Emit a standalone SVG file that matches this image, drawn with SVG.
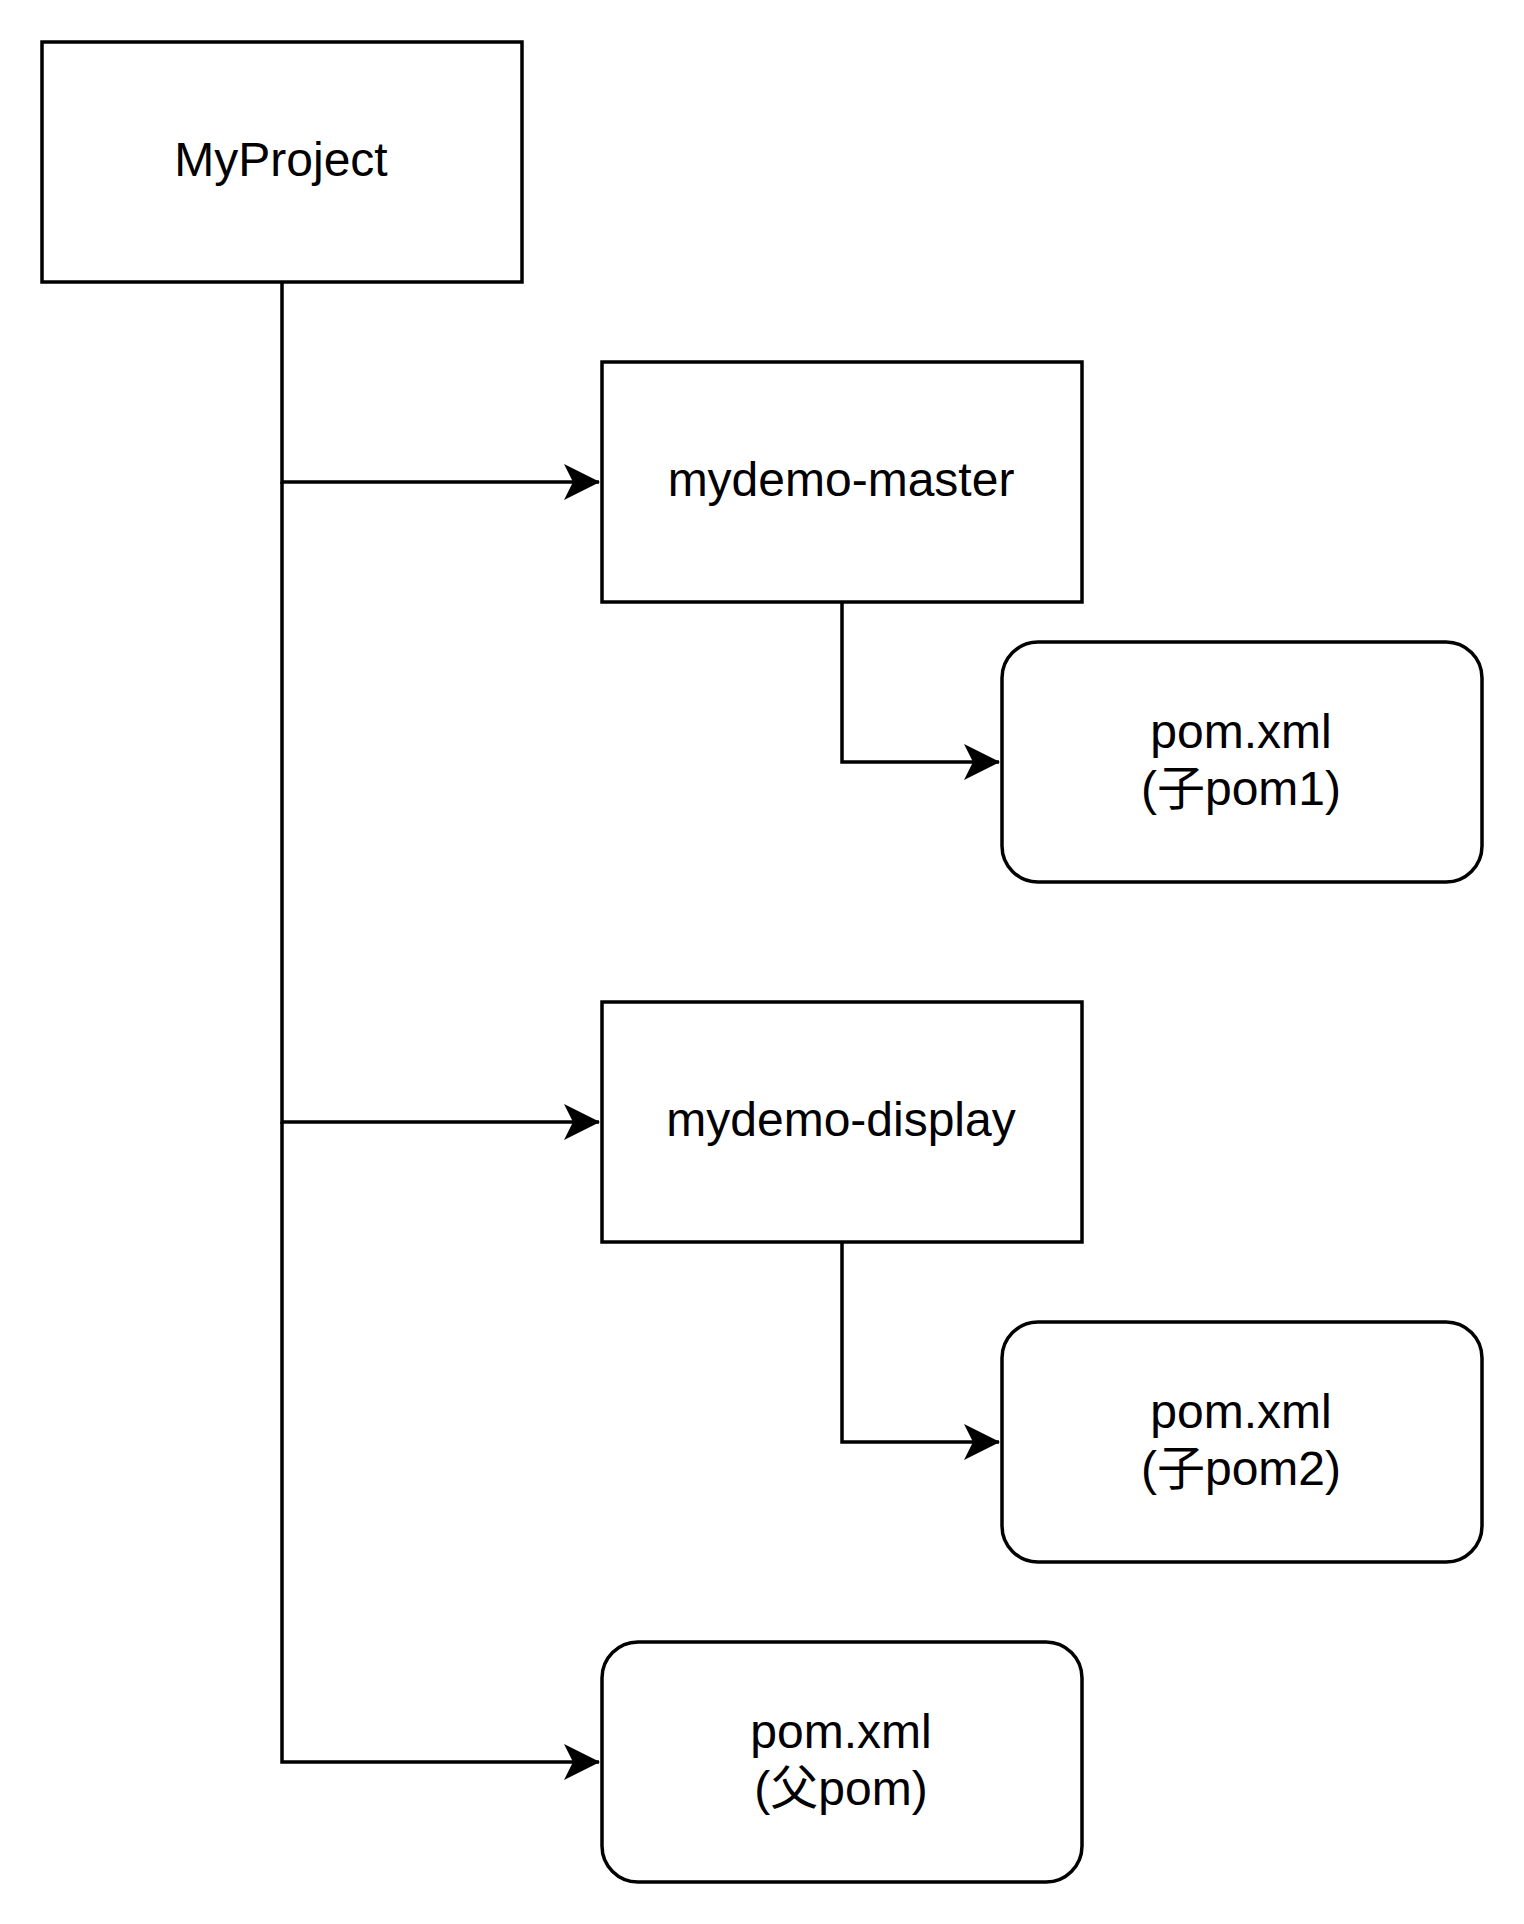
<svg xmlns="http://www.w3.org/2000/svg" width="1524" height="1924" viewBox="0 0 1524 1924">
<style>
.box{fill:#fff;stroke:#000;stroke-width:3.5}
.lbl{font-family:"Liberation Sans","Noto Sans CJK SC",sans-serif;font-size:48px;fill:#000;text-anchor:middle}
.edge{fill:none;stroke:#000;stroke-width:3.5}
</style>
<defs>
<marker id="arr" markerUnits="userSpaceOnUse" viewBox="0 0 36 38" refX="35" refY="19" markerWidth="36" markerHeight="38" orient="auto">
<path d="M36,19 L0,1 L9,19 L0,37 Z" fill="#000"/>
</marker>
</defs>
<rect width="1524" height="1924" fill="#fff"/>
<g id="connectors">
<path class="edge" d="M282,282 V482 H599" marker-end="url(#arr)"/>
<path class="edge" d="M282,482 V1122 H599" marker-end="url(#arr)"/>
<path class="edge" d="M282,1122 V1762 H599" marker-end="url(#arr)"/>
<path class="edge" d="M842,602 V762 H999" marker-end="url(#arr)"/>
<path class="edge" d="M842,1242 V1442 H999" marker-end="url(#arr)"/>
</g>
<g id="myproject">
<rect class="box" x="42" y="42" width="480" height="240"/>
<text class="lbl" x="281" y="176">MyProject</text>
</g>
<g id="mydemo-master">
<rect class="box" x="602" y="362" width="480" height="240"/>
<text class="lbl" x="841" y="496">mydemo-master</text>
</g>
<g id="pom1">
<rect class="box" x="1002" y="642" width="480" height="240" rx="36" ry="36"/>
<text class="lbl" x="1241" y="747.5">pom.xml</text>
<text class="lbl" x="1241" y="805">(子pom1)</text>
</g>
<g id="mydemo-display">
<rect class="box" x="602" y="1002" width="480" height="240"/>
<text class="lbl" x="841" y="1136">mydemo-display</text>
</g>
<g id="pom2">
<rect class="box" x="1002" y="1322" width="480" height="240" rx="36" ry="36"/>
<text class="lbl" x="1241" y="1427.5">pom.xml</text>
<text class="lbl" x="1241" y="1485">(子pom2)</text>
</g>
<g id="parent-pom">
<rect class="box" x="602" y="1642" width="480" height="240" rx="36" ry="36"/>
<text class="lbl" x="841" y="1747.5">pom.xml</text>
<text class="lbl" x="841" y="1805">(父pom)</text>
</g>
</svg>
